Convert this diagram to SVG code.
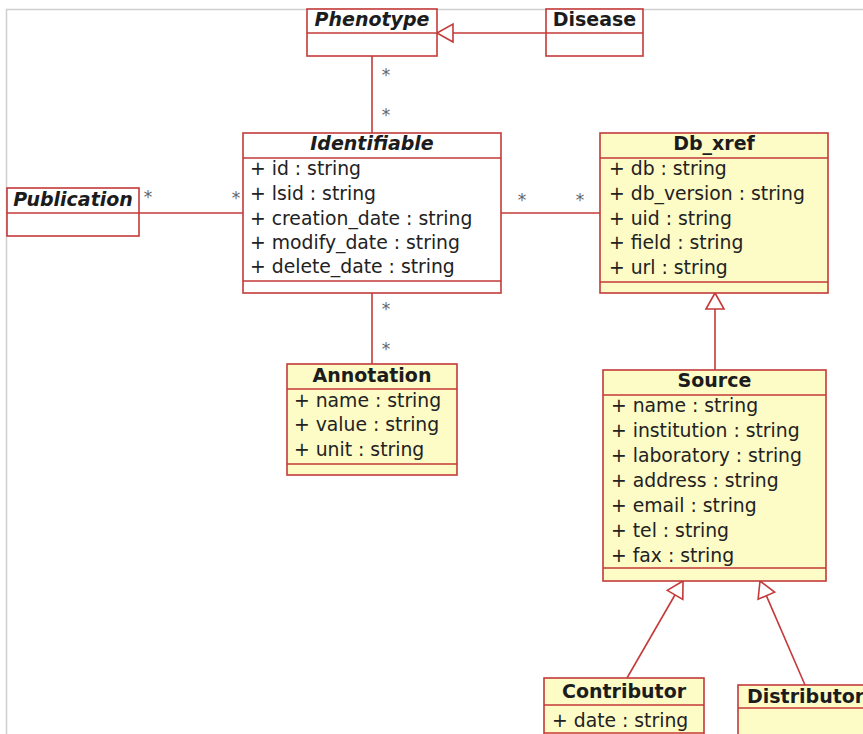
<svg xmlns="http://www.w3.org/2000/svg" width="863" height="734" viewBox="0 0 863 734">
<style>
.box{stroke:#c43a3a;stroke-width:1.6}
.w{fill:#ffffff}
.y{fill:#fdfbc6}
.div{stroke:#c43a3a;stroke-width:1.6;fill:none}
.t{font-family:"DejaVu Sans",sans-serif;font-size:19px;font-weight:bold;fill:#1c1c1c;text-anchor:middle}
.ti{font-style:italic}
.a{font-family:"DejaVu Sans",sans-serif;font-size:18.8px;fill:#222}
.m{font-family:"DejaVu Sans",sans-serif;font-size:17px;fill:#666;text-anchor:middle}
.c{stroke:#c43a3a;stroke-width:1.6;fill:none}
.frame{stroke:#cfcfcf;stroke-width:1.5;fill:none}
</style>
<defs>
<marker id="gen" viewBox="0 0 16 18" refX="16" refY="9" markerWidth="16" markerHeight="18" markerUnits="userSpaceOnUse" orient="auto" overflow="visible">
<path d="M0,0 L16,9 L0,18 Z" fill="#fff" stroke="#c43a3a" stroke-width="1.6"/>
</marker>
</defs>
<rect width="863" height="734" fill="#fff"/>
<path class="frame" d="M6.5,734 V9.5 H863"/>

<g id="connectors">
<path class="c" d="M546,33 H437" marker-end="url(#gen)"/>
<path class="c" d="M372,56 V133"/>
<path class="c" d="M139,213 H243"/>
<path class="c" d="M501,213 H600"/>
<path class="c" d="M372,293 V364"/>
<path class="c" d="M715,370 V293" marker-end="url(#gen)"/>
<path class="c" d="M627,678 L683,581" marker-end="url(#gen)"/>
<path class="c" d="M805,685 L760,581" marker-end="url(#gen)"/>
<text class="m" x="386" y="81">*</text>
<text class="m" x="386" y="121">*</text>
<text class="m" x="386" y="315">*</text>
<text class="m" x="386" y="355">*</text>
<text class="m" x="148" y="203">*</text>
<text class="m" x="236" y="204">*</text>
<text class="m" x="522" y="206">*</text>
<text class="m" x="580" y="206">*</text>
</g>

<g id="phenotype">
<rect class="box w" x="307" y="9" width="130" height="47"/>
<path class="div" d="M307,33 H437"/>
<text class="t ti" x="372" y="26">Phenotype</text>
</g>

<g id="disease">
<rect class="box w" x="546" y="9" width="97" height="47"/>
<path class="div" d="M546,33 H643"/>
<text class="t" x="594.5" y="26">Disease</text>
</g>

<g id="publication">
<rect class="box w" x="7" y="188" width="132" height="48"/>
<path class="div" d="M7,213 H139"/>
<text class="t ti" x="73" y="206">Publication</text>
</g>

<g id="identifiable">
<rect class="box w" x="243" y="133" width="258" height="160"/>
<path class="div" d="M243,158 H501 M243,281 H501"/>
<text class="t ti" x="372" y="150">Identifiable</text>
<text class="a" x="250" y="175">+ id : string</text>
<text class="a" x="250" y="200">+ lsid : string</text>
<text class="a" x="250" y="225">+ creation_date : string</text>
<text class="a" x="250" y="249">+ modify_date : string</text>
<text class="a" x="250" y="273">+ delete_date : string</text>
</g>

<g id="db_xref">
<rect class="box y" x="600" y="133" width="228" height="160"/>
<path class="div" d="M600,158 H828 M600,282 H828"/>
<text class="t" x="714" y="150">Db_xref</text>
<text class="a" x="609" y="175">+ db : string</text>
<text class="a" x="609" y="200">+ db_version : string</text>
<text class="a" x="609" y="225">+ uid : string</text>
<text class="a" x="609" y="249">+ field : string</text>
<text class="a" x="609" y="274">+ url : string</text>
</g>

<g id="annotation">
<rect class="box y" x="287" y="364" width="170" height="111"/>
<path class="div" d="M287,389 H457 M287,464 H457"/>
<text class="t" x="372" y="382">Annotation</text>
<text class="a" x="294" y="407">+ name : string</text>
<text class="a" x="294" y="431">+ value : string</text>
<text class="a" x="294" y="456">+ unit : string</text>
</g>

<g id="source">
<rect class="box y" x="603" y="370" width="223" height="211"/>
<path class="div" d="M603,395 H826 M603,568 H826"/>
<text class="t" x="714.5" y="387">Source</text>
<text class="a" x="611" y="412">+ name : string</text>
<text class="a" x="611" y="437">+ institution : string</text>
<text class="a" x="611" y="462">+ laboratory : string</text>
<text class="a" x="611" y="487">+ address : string</text>
<text class="a" x="611" y="512">+ email : string</text>
<text class="a" x="611" y="537">+ tel : string</text>
<text class="a" x="611" y="562">+ fax : string</text>
</g>

<g id="contributor">
<rect class="box y" x="544" y="678" width="160" height="70"/>
<path class="div" d="M544,705 H704 M544,733 H704"/>
<text class="t" x="624" y="698">Contributor</text>
<text class="a" x="552" y="727">+ date : string</text>
</g>

<g id="distributor">
<rect class="box y" x="738" y="685" width="140" height="60"/>
<path class="div" d="M738,708 H878"/>
<text class="t" x="747" y="703" style="text-anchor:start">Distributor</text>
</g>
</svg>
